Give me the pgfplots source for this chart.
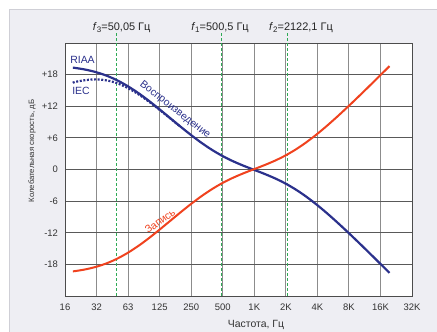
\documentclass[border=0pt]{standalone}
\usepackage{pgfplots}
\pgfplotsset{compat=1.18}
\usepackage{fontspec}
\setmainfont{Liberation Sans}
\definecolor{riaa}{HTML}{2B318C}
\definecolor{rec}{HTML}{F0421E}
\definecolor{grn}{HTML}{2EAA55}
\definecolor{bg}{HTML}{EEEEF3}
\definecolor{frm}{HTML}{CFCFD6}
\begin{document}
\begin{tikzpicture}
\useasboundingbox (0bp,0bp) rectangle (437bp,332bp);
\fill[white] (0bp,0bp) rectangle (437bp,332bp);
\fill[bg] (9bp,0bp) rectangle (437bp,322bp);
\draw[frm, line width=1bp] (9bp,0bp) -- (9bp,322bp) -- (437bp,322bp);
\begin{axis}[
  at={(65bp,36bp)}, anchor=south west, scale only axis,
  width=347bp, height=253bp,
  xmode=log, log basis x=2, xmin=16, xmax=32768,
  ymin=-24, ymax=24,
  xtick={16,32,64,128,256,512,1024,2048,4096,8192,16384,32768},
  xticklabels={16,32,63,125,250,500,1K,2K,4K,8K,16K,32K},
  ytick={-18,-12,-6,0,6,12,18},
  yticklabels={-18,-12,-6,0,+6,+12,+18},
  grid=major,
  major x grid style={black!45, line width=0.9bp},
  major y grid style={black!65, line width=0.9bp},
  axis line style={black!70, line width=0.9bp},
  major tick length=0pt,
  tick label style={font=\fontsize{9.5}{11}\selectfont, text=black!80},
  xticklabel style={yshift=-4bp},
  yticklabel style={xshift=-3.5bp},
  xlabel={Частота, Гц},
  ylabel={Колебательная скорость, дБ},
  xlabel style={font=\fontsize{10.5}{12}\selectfont, text=black!80, at={(axis description cs:0.5504,-0.1146)}, anchor=center},
  ylabel style={font=\fontsize{7.8}{10}\selectfont, text=black!80, at={(axis description cs:-0.0951,0.573)}, anchor=center},
  clip=false,
  axis background/.style={fill=white},
]
% green dashed corner frequencies
\addplot[grn, line width=0.9bp, dash pattern=on 3bp off 2bp] coordinates {(50.05,-24) (50.05,25.9)};
\addplot[grn, line width=0.9bp, dash pattern=on 3bp off 2bp] coordinates {(500.5,-24) (500.5,25.9)};
\addplot[grn, line width=0.9bp, dash pattern=on 3bp off 2bp] coordinates {(2122.1,-24) (2122.1,25.9)};
% RIAA playback
\addplot[riaa, line width=2.2bp, smooth, line join=round] coordinates {
(19,19.32) (20,19.274) (25,18.954) (31.5,18.479) (40,17.794) (50,16.948) (63,15.855) (80,14.513)
(100,13.098) (125,11.563) (160,9.81) (200,8.22) (250,6.677) (315,5.178) (400,3.784)
(500,2.647) (630,1.643) (800,0.751) (1000,0) (1250,-0.744) (1600,-1.642) (2000,-2.588)
(2500,-3.698) (3150,-5.037) (4000,-6.606) (5000,-8.209) (6300,-9.981) (8000,-11.894)
(10000,-13.734) (12500,-15.609) (16000,-17.707) (20000,-19.621)};
% IEC playback
\addplot[riaa, line width=2.2bp, dash pattern=on 2bp off 1.6bp, smooth] coordinates {
(19,16.45) (20,16.62) (25,16.95) (31.5,17.1) (40,16.9) (50,16.4) (63,15.5) (80,14.3)
(100,12.95) (125,11.47) (160,9.76) (200,8.19)};
% Recording
\addplot[rec, line width=2bp, smooth, line join=round] coordinates {
(19,-19.32) (20,-19.274) (25,-18.954) (31.5,-18.479) (40,-17.794) (50,-16.948) (63,-15.855) (80,-14.513)
(100,-13.098) (125,-11.563) (160,-9.81) (200,-8.22) (250,-6.677) (315,-5.178) (400,-3.784)
(500,-2.647) (630,-1.643) (800,-0.751) (1000,0) (1250,0.744) (1600,1.642) (2000,2.588)
(2500,3.698) (3150,5.037) (4000,6.606) (5000,8.209) (6300,9.981) (8000,11.894)
(10000,13.734) (12500,15.609) (16000,17.707) (20000,19.621)};
\end{axis}
\begin{scope}[every node/.style={font=\fontsize{11}{13}\selectfont, text=black!85, inner sep=0pt}]
\node at (121.7bp,304bp) {\textit{f}{\fontsize{8}{9}\selectfont\raisebox{-0.4ex}{3}}=50,05 Гц};
\node at (220bp,304bp) {\textit{f}{\fontsize{8}{9}\selectfont\raisebox{-0.4ex}{1}}=500,5 Гц};
\node at (301bp,304bp) {\textit{f}{\fontsize{8}{9}\selectfont\raisebox{-0.4ex}{2}}=2122,1 Гц};
\end{scope}
\begin{scope}[every node/.style={font=\fontsize{10.5}{12}\selectfont, inner sep=0pt}]
\node[text=riaa] at (82.5bp,272bp) {RIAA};
\node[text=riaa] at (81bp,241bp) {IEC};
\node[text=riaa, rotate=-38] at (175bp,222bp) {Воспроизведение};
\node[text=rec, rotate=36] at (160bp,111bp) {Запись};
\end{scope}
\end{tikzpicture}
\end{document}
